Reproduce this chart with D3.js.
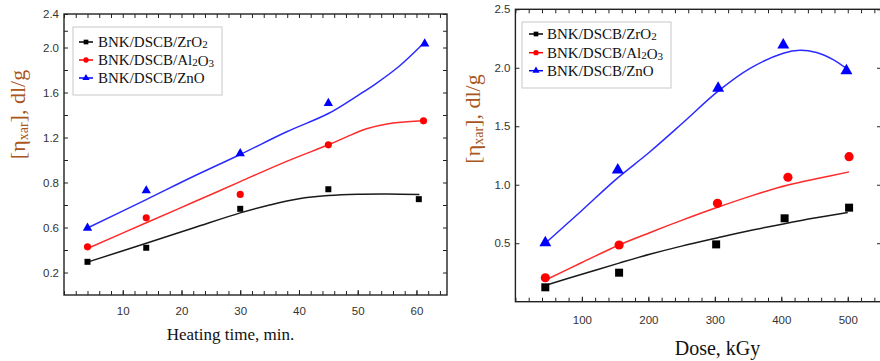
<!DOCTYPE html>
<html>
<head>
<meta charset="utf-8">
<script src="https://cdn.jsdelivr.net/npm/d3@7"></script>
<style>
  body { margin:0; background:#fff; }
  svg { display:block; background:#fff; }
  .tick text { font-family:"Liberation Sans", Arial, sans-serif; font-size:11.5px; fill:#333; }
  .tick line { stroke:#222; }
  .serif { font-family:"Liberation Serif", "Times New Roman", serif; }
</style>
</head>
<body>
<div id="chart"></div>
<script>
// ---- left panel: viscosity vs heating time ----
const heatX_ZrO2  = [4, 14, 30, 45, 60.4];
const heatY_ZrO2  = [0.295, 0.42, 0.683, 0.77, 0.726];
const heatX_Al2O3 = [4, 14, 30, 45, 61.2];
const heatY_Al2O3 = [0.428, 0.643, 0.747, 1.135, 1.348];
const heatX_ZnO   = [4, 14, 30, 45, 61.4];
const heatY_ZnO   = [0.596, 0.764, 1.058, 1.505, 2.045];

// fitted curves
const heatFit_ZrO2  = [[4,0.292],[14,0.46],[22,0.595],[30,0.665],[35,0.70],[40,0.728],[45,0.742],[50,0.748],[55,0.749],[60.5,0.747]];
const heatFit_Al2O3 = [[4,0.413],[14,0.621],[22,0.712],[30,0.808],[38,0.99],[45,1.135],[48,1.203],[51.5,1.277],[55,1.32],[61,1.348]];
const heatFit_ZnO   = [[4,0.596],[14,0.724],[22,0.853],[30,1.049],[38,1.253],[45,1.413],[50,1.573],[53,1.675],[57,1.831],[61,2.036]];

// y labels exactly as printed on the figure (not evenly valued)
const heatYTicks  = [0.2, 0.6, 0.8, 1.2, 1.6, 2.0, 2.4];
const heatYMinor  = [0.4, 0.7, 1.0, 1.4, 1.8, 2.2];
const heatXLabels = [10, 20, 30, 40, 50, 60];

// ---- right panel: viscosity vs dose ----
const doseX_ZrO2  = [45, 156, 302, 405, 502];
const doseY_ZrO2  = [0.123, 0.248, 0.49, 0.713, 0.804];
const doseX_Al2O3 = [45, 156, 304, 410, 502];
const doseY_Al2O3 = [0.205, 0.485, 0.841, 1.064, 1.24];
const doseX_ZnO   = [45, 154, 305, 403, 498];
const doseY_ZnO   = [0.504, 1.126, 1.825, 2.195, 1.975];

const doseFit_ZrO2  = [[47,0.143],[100,0.235],[156,0.33],[202,0.405],[250,0.475],[303,0.545],[350,0.605],[403,0.665],[450,0.715],[500,0.762]];
const doseFit_Al2O3 = [[47,0.19],[100,0.335],[156,0.485],[202,0.59],[250,0.695],[304,0.807],[355,0.905],[410,0.998],[460,1.06],[502,1.11]];
const doseFit_ZnO   = [[45,0.50],[100,0.78],[150,1.04],[202,1.28],[252,1.53],[305,1.80],[353,1.995],[403,2.124],[428,2.15],[453,2.13],[478,2.07],[498,1.995]];

const doseYTicks  = [0.5, 1.0, 1.5, 2.0, 2.5];
const doseXLabels = [100, 200, 300, 400, 500];

// legend labels: [text, isSubscript]
const legendZrO2  = [["BNK/DSCB/ZrO",0],["2",1]];
const legendAl2O3 = [["BNK/DSCB/Al",0],["2",1],["O",0],["3",1]];
const legendZnO   = [["BNK/DSCB/ZnO",0]];

const svg = d3.select("#chart").append("svg")
  .attr("width",880)
  .attr("height",361);

// left y scale is piecewise, evenly spaced ticks carry the printed labels
var lBox = {x0:64, x1:447, y0:14, y1:295};
var lStep = 45;
var lRange = heatYTicks.map((d,i)=> i<heatYTicks.length-1 ? lBox.y1-(i+0.5)*lStep : lBox.y0);

var rBox = {x0:515.4, x1:881, y0:9.3, y1:301.7};

const panels = [
  {
    box:lBox,
    x:d3.scaleLinear().domain([0,65.2]).range([lBox.x0,lBox.x1]),
    y:d3.scaleLinear().domain(heatYTicks).range(lRange),
    xMinor:d3.range(0,66,2), xLabels:heatXLabels, xPad:12,
    yTicks:heatYTicks, yMinor:heatYMinor,
    sym:{sq:36, ci:40, tr:38}, legendSym:22,
    series:[
      {xs:heatX_ZrO2, ys:heatY_ZrO2, fit:heatFit_ZrO2, color:"#000", line:"#1a1a1a", shape:d3.symbolSquare, key:"sq", label:legendZrO2},
      {xs:heatX_Al2O3, ys:heatY_Al2O3, fit:heatFit_Al2O3, color:"#ff0000", line:"#ff2a2a", shape:d3.symbolCircle, key:"ci", label:legendAl2O3},
      {xs:heatX_ZnO, ys:heatY_ZnO, fit:heatFit_ZnO, color:"#0000ff", line:"#2b2bff", shape:d3.symbolTriangle, key:"tr", label:legendZnO}
    ],
    legend:{x:73, y:27, w:149, h:68, mx:86, tx:98, rows:[42,60,78]},
    yLabel:{x:25, y:114.5},
    xLabel:{text:"Heating time, min.", x:230.5, y:340, size:17}
  },
  {
    box:rBox,
    x:d3.scaleLinear().domain([0,550]).range([rBox.x0,rBox.x1]),
    y:d3.scaleLinear().domain([0,2.5]).range([rBox.y1,rBox.y0]),
    xMinor:d3.range(0,560,20), xLabels:doseXLabels, xPad:14,
    yTicks:doseYTicks, yMinor:[],
    sym:{sq:64, ci:66, tr:62}, legendSym:22,
    series:[
      {xs:doseX_ZrO2, ys:doseY_ZrO2, fit:doseFit_ZrO2, color:"#000", line:"#1a1a1a", shape:d3.symbolSquare, key:"sq", label:legendZrO2},
      {xs:doseX_Al2O3, ys:doseY_Al2O3, fit:doseFit_Al2O3, color:"#ff0000", line:"#ff2a2a", shape:d3.symbolCircle, key:"ci", label:legendAl2O3},
      {xs:doseX_ZnO, ys:doseY_ZnO, fit:doseFit_ZnO, color:"#0000ff", line:"#2b2bff", shape:d3.symbolTriangle, key:"tr", label:legendZnO}
    ],
    legend:{x:522, y:22, w:149, h:66, mx:536, tx:547, rows:[34,52.7,70.7]},
    yLabel:{x:480, y:119},
    xLabel:{text:"Dose, kGy", x:717.5, y:355, size:20}
  }
];

panels.forEach(drawPanel);

function drawPanel(p){
  var b = p.box;
  var g = svg.append("g");

  // ticks, all pointing inward
  var axes = [
    g.append("g").attr("transform","translate(0,"+b.y1+")")
      .call(d3.axisBottom(p.x).tickValues(p.xMinor).tickSize(-4).tickFormat("")),
    g.append("g").attr("transform","translate(0,"+b.y1+")")
      .call(d3.axisBottom(p.x).tickValues(p.xLabels).tickSize(-5).tickPadding(p.xPad)),
    g.append("g").attr("transform","translate(0,"+b.y0+")")
      .call(d3.axisTop(p.x).tickValues(p.xMinor).tickSize(-4).tickFormat("")),
    g.append("g").attr("transform","translate("+b.x0+",0)")
      .call(d3.axisLeft(p.y).tickValues(p.yTicks).tickSize(-4).tickPadding(5).tickFormat(d3.format(".1f"))),
    g.append("g").attr("transform","translate("+b.x0+",0)")
      .call(d3.axisLeft(p.y).tickValues(p.yMinor).tickSize(-4).tickFormat("")),
    g.append("g").attr("transform","translate("+b.x1+",0)")
      .call(d3.axisRight(p.y).tickValues(p.yTicks.concat(p.yMinor)).tickSize(-4).tickFormat(""))
  ];
  axes.forEach(a=>a.select(".domain").remove());

  g.append("rect")
    .attr("x",b.x0).attr("y",b.y0)
    .attr("width",b.x1-b.x0).attr("height",b.y1-b.y0)
    .attr("fill","none")
    .attr("stroke","#222")
    .attr("stroke-width",1.4);

  var line = d3.line()
    .curve(d3.curveCatmullRom.alpha(0.5))
    .x(d=>p.x(d[0]))
    .y(d=>p.y(d[1]));

  p.series.forEach(s=>{
    g.append("path")
      .attr("d",line(s.fit))
      .attr("fill","none")
      .attr("stroke",s.line)
      .attr("stroke-width",1.5);
  });

  p.series.forEach(s=>{
    g.selectAll(null)
      .data(s.xs.map((x,i)=>[x,s.ys[i]]))
      .enter().append("path")
      .attr("transform",d=>"translate("+p.x(d[0])+","+p.y(d[1])+")")
      .attr("d",d3.symbol().type(s.shape).size(p.sym[s.key]))
      .attr("fill",s.color);
  });

  // legend
  var L = p.legend;
  var lg = g.append("g");
  lg.append("rect")
    .attr("x",L.x).attr("y",L.y).attr("width",L.w).attr("height",L.h)
    .attr("fill","#fff").attr("stroke","#c8c8c8").attr("stroke-width",1);

  p.series.forEach((s,i)=>{
    var cy = L.rows[i];
    lg.append("line")
      .attr("x1",L.mx-7).attr("x2",L.mx+7).attr("y1",cy).attr("y2",cy)
      .attr("stroke",s.color).attr("stroke-width",1.5);
    lg.append("path")
      .attr("transform","translate("+L.mx+","+cy+")")
      .attr("d",d3.symbol().type(s.shape).size(p.legendSym))
      .attr("fill",s.color);
    var t = lg.append("text")
      .attr("class","serif")
      .attr("x",L.tx).attr("y",cy+5)
      .style("font-size","15px")
      .attr("fill","#111");
    s.label.forEach(part=>{
      t.append("tspan")
        .style("font-size", part[1] ? "11px" : "15px")
        .attr("dy", part[1] ? 1 : 0)
        .text(part[0]);
      if (part[1]) t.append("tspan").attr("dy",-1).text("");
    });
  });

  // y-axis title
  var yl = g.append("text")
    .attr("class","serif")
    .attr("transform","translate("+p.yLabel.x+","+p.yLabel.y+") rotate(-90)")
    .attr("text-anchor","middle")
    .attr("fill","#a8561c")
    .style("font-size","22px");
  yl.append("tspan").text("[\u03b7");
  yl.append("tspan").attr("dy",3).style("font-size","14px").text("xar");
  yl.append("tspan").attr("dy",-3).text("], dl/g");

  g.append("text")
    .attr("class","serif")
    .attr("x",p.xLabel.x).attr("y",p.xLabel.y)
    .attr("text-anchor","middle")
    .attr("fill","#111")
    .style("font-size",p.xLabel.size+"px")
    .text(p.xLabel.text);
}
</script>
</body>
</html>
